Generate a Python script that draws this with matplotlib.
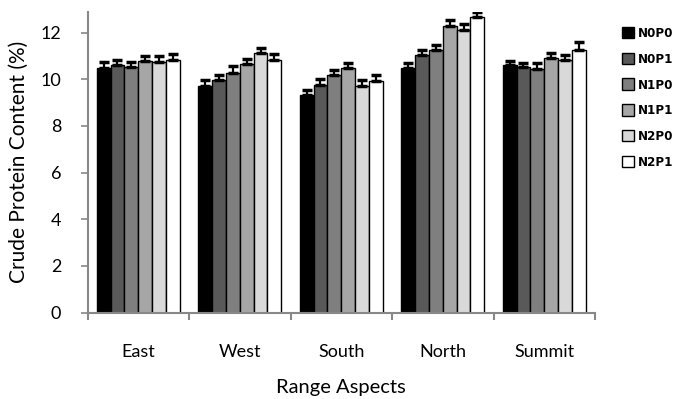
import matplotlib
matplotlib.use("Agg")
import matplotlib.pyplot as plt
import numpy as np
from matplotlib.patches import Patch

categories = ["East", "West", "South", "North", "Summit"]
series = ["N0P0", "N0P1", "N1P0", "N1P1", "N2P0", "N2P1"]
values = {
    "N0P0": [10.50, 9.71, 9.31, 10.47, 10.60],
    "N0P1": [10.61, 9.97, 9.76, 11.05, 10.51],
    "N1P0": [10.54, 10.28, 10.18, 11.23, 10.45],
    "N1P1": [10.78, 10.67, 10.50, 12.26, 10.92],
    "N2P0": [10.75, 11.14, 9.71, 12.10, 10.81],
    "N2P1": [10.81, 10.81, 9.91, 12.65, 11.26],
}
errors = {
    "N0P0": [0.24, 0.26, 0.21, 0.21, 0.16],
    "N0P1": [0.22, 0.21, 0.26, 0.21, 0.17],
    "N1P0": [0.20, 0.29, 0.23, 0.23, 0.23],
    "N1P1": [0.22, 0.21, 0.19, 0.29, 0.21],
    "N2P0": [0.25, 0.21, 0.26, 0.27, 0.23],
    "N2P1": [0.26, 0.26, 0.29, 0.21, 0.32],
}
colors = ["#000000", "#595959", "#7f7f7f", "#a6a6a6", "#d9d9d9", "#ffffff"]
yticks = [0, 2, 4, 6, 8, 10, 12]

font = "Lato"
fig = plt.figure(figsize=(6.74, 3.99), dpi=100)
ax = fig.add_axes([87.5/674, 1-312.5/399, (595-87.5)/674, (312.5-11.5)/399])

x = np.arange(len(categories))
n = len(series)
group = 0.82
bw = group / n
for i, s in enumerate(series):
    pos = x - group/2 + bw*(i+0.5)
    v = np.array(values[s])
    e = np.array(errors[s])
    ax.bar(pos, v, width=bw, color=colors[i], edgecolor="black", linewidth=1.0, zorder=2)
    ax.errorbar(pos, v, yerr=[np.zeros_like(e), e], fmt="none", ecolor="black",
                elinewidth=1.6, capsize=3.5, capthick=2.5, zorder=3)

ax.set_xlim(-0.5, len(categories)-0.5)
ax.set_ylim(0, 12.9)
ax.set_yticks(yticks)
ax.set_yticklabels([str(t) for t in yticks], fontsize=13, family=font)
ax.set_xticks(x)
ax.set_xticklabels(categories, fontsize=13, family=font)
ax.set_xticks(np.arange(-0.5, len(categories)), minor=True)
ax.tick_params(axis="x", which="major", length=0, pad=23)
ax.tick_params(axis="x", which="minor", length=5, width=1.5, color="#888888")
ax.tick_params(axis="y", length=5, width=1.2, color="#888888", pad=14)
for sp in ["top", "right"]:
    ax.spines[sp].set_visible(False)
for sp in ["left", "bottom"]:
    ax.spines[sp].set_color("#888888")
    ax.spines[sp].set_linewidth(1.5)

ax.set_ylabel("Crude Protein Content (%)", fontsize=15, family=font, labelpad=8)
ax.set_xlabel("Range Aspects", fontsize=14.5, family=font, labelpad=13)

handles = [Patch(facecolor=colors[i], edgecolor="black", linewidth=1.0, label=s)
           for i, s in enumerate(series)]
leg = fig.legend(handles=handles, loc="upper left", bbox_to_anchor=(610/674, 1-15/399),
                 frameon=False, handlelength=0.95, handleheight=0.95, handletextpad=0.25,
                 labelspacing=0.95, prop={"family": "DejaVu Sans", "weight": "bold",
                                          "size": 9.5, "stretch": "condensed"})

fig.savefig("out.png", dpi=100)
